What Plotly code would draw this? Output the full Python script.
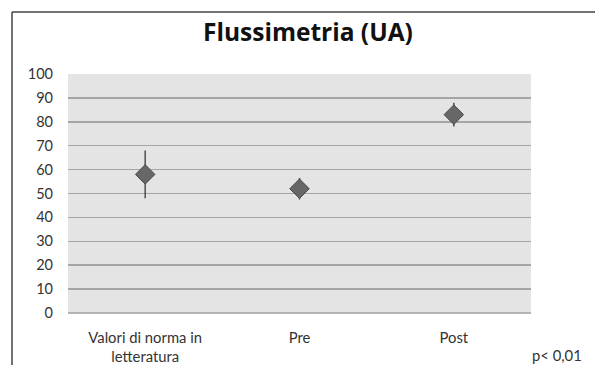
import plotly.graph_objects as go

categories = ["Valori di norma in<br>letteratura", "Pre", "Post"]
means = [58, 52, 83]
errors = [10, 4.5, 5]
y_ticks = [0, 10, 20, 30, 40, 50, 60, 70, 80, 90, 100]

FONT = "Lato, 'Open Sans', sans-serif"

W, H = 595, 365
L, R, T, B = 68, 531, 74, 313
pw, ph = R - L, B - T

def px(x):
    return (x - L) / pw

def py(y):
    return (B - y) / ph

fig = go.Figure()
fig.add_trace(go.Scatter(
    x=categories, y=means, mode="markers",
    marker=dict(symbol="diamond", size=15, color="#676767",
                line=dict(color="#484848", width=1)),
    error_y=dict(type="data", array=errors, visible=True,
                 color="#444444", thickness=1.4, width=0),
    showlegend=False, hoverinfo="skip",
))

fig.update_layout(
    width=W, height=H, autosize=False,
    margin=dict(l=L, r=W - R, t=T, b=H - B, pad=0, autoexpand=False),
    paper_bgcolor="white", plot_bgcolor="#e4e4e4",
    font=dict(family=FONT, size=14.5, color="#333333"),
    title=dict(text="<b>Flussimetria (UA)</b>", x=px(308), xanchor="center",
               y=1 - 32 / H, yanchor="middle", xref="paper", automargin=False,
               font=dict(size=24.5, color="#111111",
                         family="'Open Sans', Lato, sans-serif")),
    xaxis=dict(type="category", range=[-0.5, 2.5], showgrid=False,
               showline=False, zeroline=False, ticks="", automargin=False,
               ticklabelstandoff=14, tickfont=dict(size=14.8, color="#333333")),
    yaxis=dict(range=[0, 100], tickvals=y_ticks, showgrid=True,
               gridcolor="#a5a5a5", gridwidth=1.5, zeroline=False,
               showline=False, ticks="", ticklabelstandoff=14, automargin=False,
               tickfont=dict(size=14.5, color="#333333")),
    shapes=[
        dict(type="line", xref="paper", yref="paper", x0=0, x1=1, y0=0, y1=0,
             line=dict(color="#a0a0a0", width=1.5)),
        dict(type="line", xref="paper", yref="paper",
             x0=px(12), x1=px(12), y0=py(12), y1=py(370),
             line=dict(color="#444444", width=1.5)),
        dict(type="line", xref="paper", yref="paper",
             x0=px(12), x1=px(610), y0=py(12), y1=py(12),
             line=dict(color="#444444", width=1.5)),
    ],
    annotations=[
        dict(text="p< 0,01", xref="paper", yref="paper", x=px(557), y=py(355),
             xanchor="center", yanchor="middle", showarrow=False,
             font=dict(size=14.8, color="#333333", family=FONT)),
    ],
)

fig.write_html(
    "out.html",
    config={"displayModeBar": False, "staticPlot": True},
    post_script="document.body.style.margin='0';document.body.style.overflow='hidden';",
)
